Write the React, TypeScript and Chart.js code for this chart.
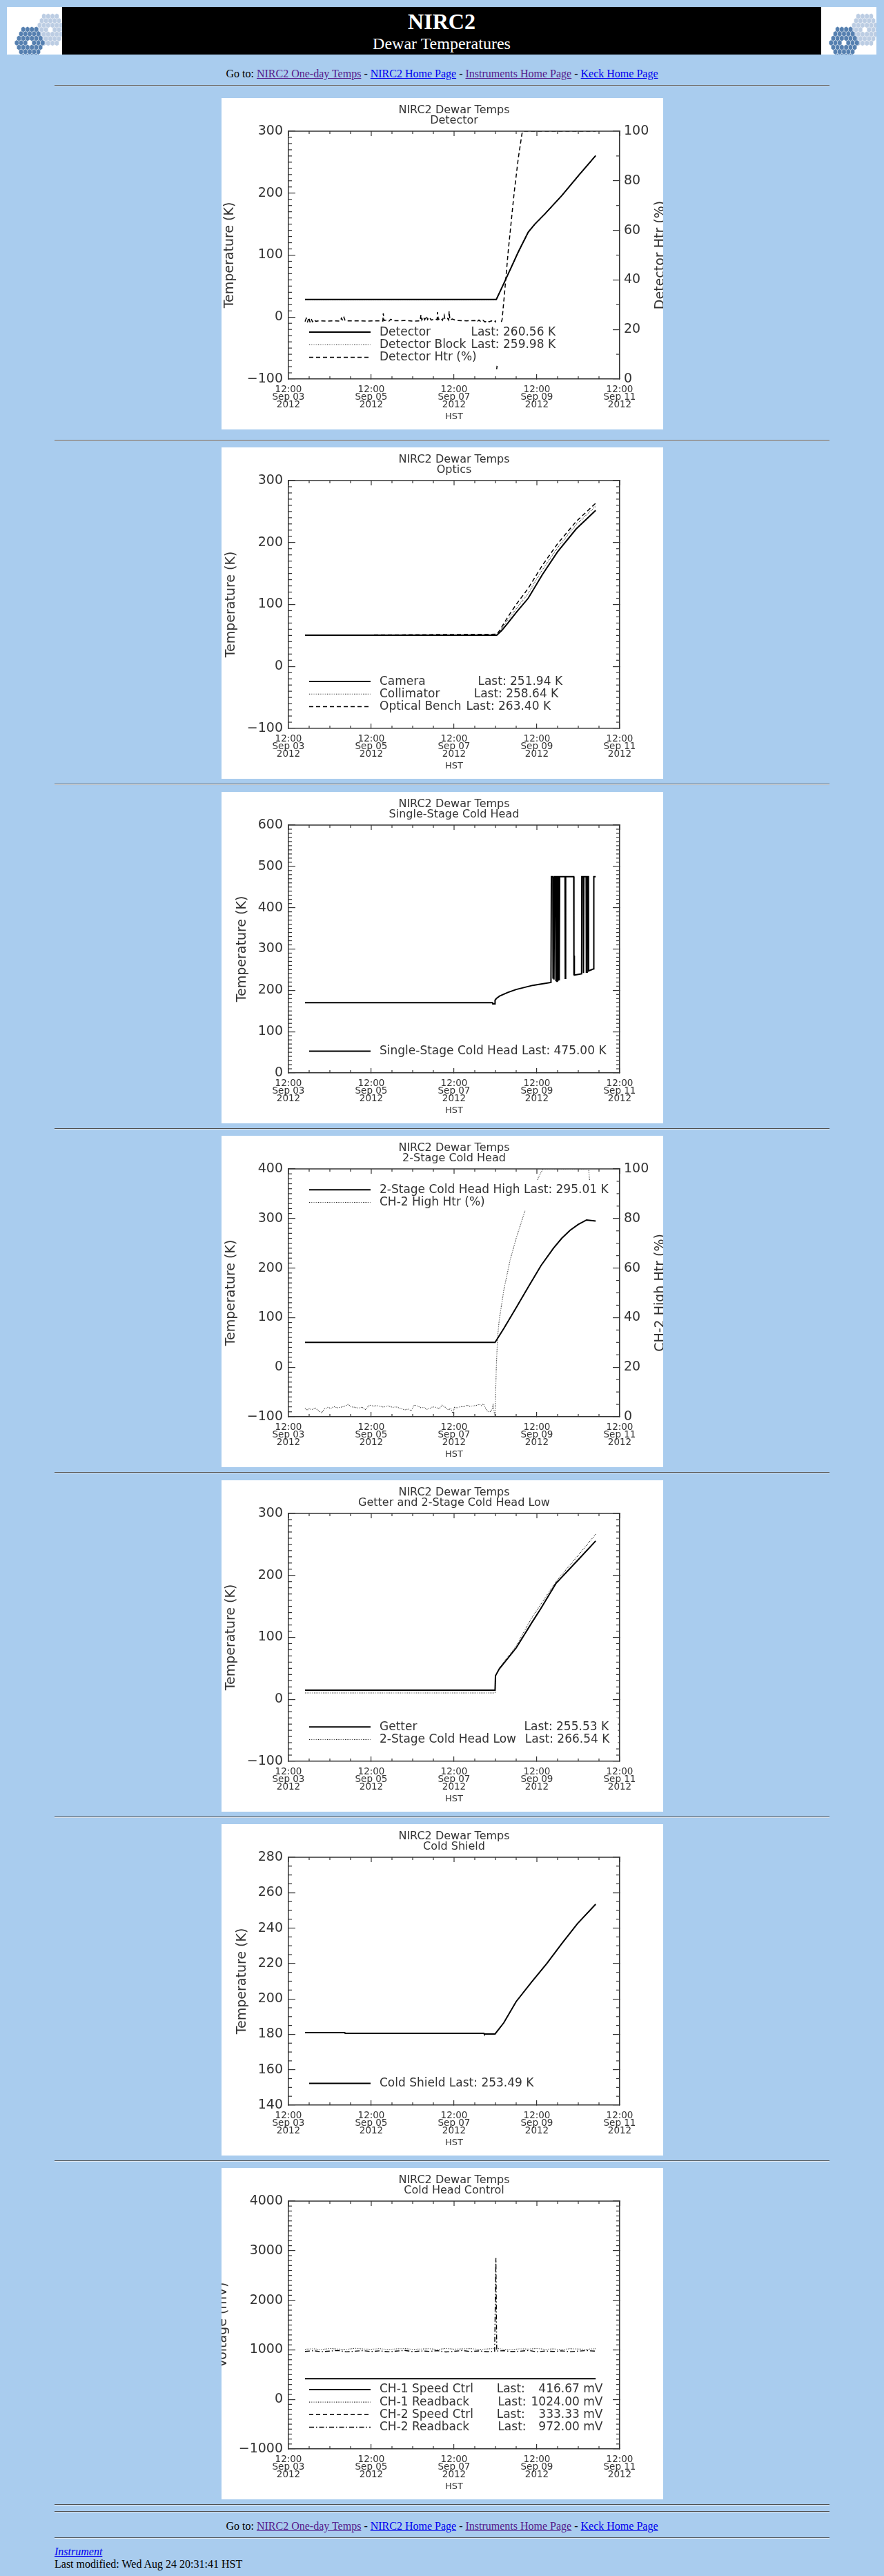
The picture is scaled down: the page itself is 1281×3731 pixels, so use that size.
import React, { useEffect, useRef } from "react";
import { Chart, registerables } from "chart.js";

Chart.register(...registerables);

const BG = "#a9ccee";
const FONT = '"DejaVu Sans", sans-serif';
const INK = "#333";

// x values are days after 12:00 HST, Sep 03 2012
const xTickLabels = [
  ["12:00", "Sep 03", "2012"],
  ["12:00", "Sep 05", "2012"],
  ["12:00", "Sep 07", "2012"],
  ["12:00", "Sep 09", "2012"],
  ["12:00", "Sep 11", "2012"],
];

type P = [number, number];

// ---- Detector ----
const detector: P[] = [[0.40, 28.4], [5.02, 28.4], [5.15, 47], [5.31, 70], [5.55, 105], [5.79, 137], [5.95, 150], [6.20, 167], [6.60, 196], [7.00, 228], [7.42, 260.6]];
const detectorBlock: P[] = [[0.40, 28.0], [5.02, 28.0], [5.15, 46.5], [5.31, 69.4], [5.55, 104.3], [5.79, 136.2], [5.95, 149.3], [6.20, 166.5], [6.60, 195.4], [7.00, 227.3], [7.42, 260.0]];
const detectorHtr: P[] = [
  [0.40, 23.2], [0.43, 24.5], [0.46, 22.9], [0.49, 24.8], [0.52, 23.0], [0.55, 24.3], [0.58, 23.1], [0.62, 24.0], [0.66, 23.3], [0.75, 23.5],
  [0.90, 23.4], [1.10, 23.5], [1.25, 23.4], [1.28, 24.6], [1.31, 23.6], [1.34, 24.9], [1.37, 23.5], [1.60, 23.5], [1.90, 23.4], [2.20, 23.5],
  [2.28, 23.4], [2.29, 26.5], [2.31, 23.6], [2.40, 23.9], [2.43, 23.4], [2.47, 24.1], [2.55, 23.5], [2.80, 23.6], [3.00, 23.4], [3.18, 23.5],
  [3.20, 25.9], [3.22, 23.8], [3.26, 25.0], [3.29, 23.9], [3.33, 25.4], [3.36, 24.0], [3.40, 24.9], [3.45, 23.8], [3.55, 24.3], [3.59, 23.9],
  [3.60, 27.0], [3.62, 24.0], [3.68, 24.6], [3.72, 23.7], [3.76, 25.8], [3.78, 24.1], [3.84, 24.5], [3.87, 23.8], [3.88, 27.3], [3.90, 23.9],
  [3.96, 24.2], [4.05, 23.6], [4.30, 23.5], [4.50, 23.6], [4.55, 23.0], [4.60, 23.8], [4.65, 23.1], [4.70, 23.7], [4.75, 23.0], [4.80, 23.6],
  [4.85, 23.1], [4.90, 23.5], [4.95, 23.0], [5.00, 23.4], [5.03, 4.0], [5.14, 23.0], [5.16, 24.0], [5.21, 33.0], [5.31, 52.0], [5.45, 75.0],
  [5.55, 89.0], [5.64, 99.0], [5.66, 100], [7.42, 100],
];

// ---- Optics ----
const camera: P[] = [[0.40, 50.4], [5.03, 50.4], [5.15, 58], [5.30, 70], [5.50, 87], [5.79, 110], [6.13, 148], [6.50, 185], [6.95, 222], [7.42, 251.9]];
const collimator: P[] = [[0.40, 50.6], [5.03, 50.6], [5.15, 61], [5.30, 75], [5.50, 93], [5.79, 118], [6.13, 156], [6.50, 192], [6.95, 229], [7.42, 258.6]];
const opticalBench: P[] = [[0.40, 50.2], [5.03, 52], [5.10, 58], [5.30, 80], [5.50, 100], [5.79, 126], [6.13, 163], [6.50, 198], [6.95, 234], [7.42, 263.4]];

// ---- Single-Stage Cold Head ----
const singleStage: P[] = [
  [0.40, 170], [4.93, 170], [4.935, 167], [4.985, 167], [4.99, 176], [5.02, 180], [5.10, 186], [5.30, 195], [5.50, 202], [5.70, 207],
  [5.90, 212], [6.10, 215], [6.34, 219], [6.35, 475], [6.385, 475], [6.39, 228], [6.40, 475], [6.41, 475], [6.415, 226], [6.425, 475],
  [6.45, 475], [6.455, 222], [6.465, 475], [6.48, 475], [6.485, 222], [6.495, 475], [6.51, 475], [6.515, 223], [6.525, 475], [6.535, 475],
  [6.54, 224], [6.55, 475], [6.68, 475], [6.685, 229], [6.695, 475], [6.89, 475], [6.895, 237], [6.90, 284], [6.905, 237], [7.08, 240],
  [7.085, 475], [7.12, 475], [7.125, 242], [7.135, 475], [7.19, 475], [7.195, 244], [7.21, 244], [7.215, 475], [7.245, 475], [7.25, 247],
  [7.37, 252], [7.375, 475], [7.42, 475],
];

// ---- 2-Stage Cold Head ----
const twoStageHigh: P[] = [[0.40, 50], [4.99, 50], [5.20, 78], [5.50, 120], [5.80, 163], [6.10, 205], [6.40, 240], [6.60, 260], [6.80, 276], [7.00, 288], [7.20, 297], [7.42, 295.0]];
const ch2HighHtr: P[] = [
  [0.40, 3.5], [0.45, 2.6], [0.50, 3.3], [0.57, 2.9], [0.65, 3.6], [0.72, 2.5], [0.80, 1.6], [0.87, 3.2], [0.95, 3.8], [1.02, 3.4],
  [1.10, 4.1], [1.18, 3.6], [1.25, 3.8], [1.35, 4.2], [1.44, 5.0], [1.52, 4.0], [1.60, 3.8], [1.70, 3.5], [1.78, 3.9], [1.85, 2.8],
  [1.96, 4.7], [2.05, 4.3], [2.14, 4.5], [2.22, 4.2], [2.30, 3.9], [2.40, 4.4], [2.52, 3.8], [2.60, 4.0], [2.70, 3.4], [2.81, 2.8],
  [2.90, 3.1], [2.96, 2.4], [3.04, 4.7], [3.12, 4.3], [3.20, 3.6], [3.26, 3.8], [3.34, 3.0], [3.41, 3.3], [3.48, 4.0], [3.56, 3.8],
  [3.64, 3.2], [3.71, 4.7], [3.78, 3.9], [3.86, 2.8], [3.92, 3.3], [3.97, 1.4], [4.01, 3.8], [4.08, 3.6], [4.16, 4.1], [4.24, 4.0],
  [4.31, 4.7], [4.38, 4.2], [4.46, 4.4], [4.54, 4.6], [4.61, 5.0], [4.66, 4.5], [4.71, 5.2], [4.79, 2.4], [4.86, 1.9], [4.92, 3.0],
  [4.94, 4.7], [4.97, 2.0], [4.99, 0.0], [5.02, 20], [5.05, 32], [5.09, 39], [5.20, 51], [5.35, 63], [5.50, 72], [5.72, 83.5],
  [5.90, 91], [6.05, 97], [6.15, 100], [7.25, 100], [7.30, 90], [7.42, 89],
];

// ---- Getter and 2-Stage Cold Head Low ----
const getter: P[] = [[0.40, 14.8], [4.99, 14.8], [5.00, 38], [5.09, 49], [5.50, 83], [5.87, 123], [6.09, 146], [6.46, 187], [6.98, 224], [7.42, 255.5]];
const twoStageLow: P[] = [[0.40, 10.3], [4.99, 10.3], [5.00, 36], [5.09, 50], [5.50, 86], [5.87, 131], [6.46, 190], [6.98, 231], [7.42, 266.5]];

// ---- Cold Shield ----
const coldShield: P[] = [[0.40, 180.9], [1.36, 180.9], [1.37, 180.6], [4.72, 180.6], [4.73, 180.2], [4.99, 180.2], [5.20, 186.5], [5.50, 198.5], [5.87, 209.5], [6.24, 220], [6.61, 231.5], [6.98, 242.5], [7.42, 253.5]];

// ---- Cold Head Control (mV) ----
const ch1Speed: P[] = [[0.40, 416.67], [7.42, 416.67]];
const ch2Speed: P[] = [[0.40, 333.33], [7.42, 333.33]];
const ch1Readback: P[] = [
  [0.4, 1012], [0.6, 1021], [0.8, 1006], [1.0, 1027], [1.2, 1015], [1.4, 1009], [1.6, 1030], [1.8, 1017], [2.0, 1011], [2.2, 1024],
  [2.4, 1004], [2.6, 1019], [2.8, 1026], [3.0, 1010], [3.2, 1016], [3.4, 1023], [3.6, 1007], [3.8, 1028], [4.0, 1013], [4.2, 1019],
  [4.4, 1025], [4.6, 1009], [4.8, 1017], [5.0, 1031], [5.2, 1012], [5.4, 1006], [5.6, 1021], [5.8, 1015], [6.0, 1028], [6.2, 1010],
  [6.4, 1019], [6.6, 1004], [6.8, 1023], [7.0, 1016], [7.2, 1011], [7.42, 1024],
];
const ch2Readback: P[] = [
  [0.4, 968], [0.6, 981], [0.8, 962], [1.0, 975], [1.2, 987], [1.4, 958], [1.6, 972], [1.8, 984], [2.0, 966], [2.2, 979],
  [2.4, 960], [2.6, 974], [2.8, 989], [3.0, 963], [3.2, 977], [3.4, 969], [3.6, 983], [3.8, 957], [4.0, 971], [4.2, 986],
  [4.4, 965], [4.6, 978], [4.8, 961], [4.98, 970], [5.01, 2850], [5.03, 976], [5.2, 982], [5.4, 964], [5.6, 973], [5.8, 988],
  [6.0, 959], [6.2, 976], [6.4, 967], [6.6, 980], [6.8, 962], [7.0, 974], [7.2, 985], [7.42, 972],
];

type Style = "solid" | "dotted" | "dashed" | "dashdot";
const STYLE: Record<Style, { borderDash: number[]; borderWidth: number; borderColor: string }> = {
  solid: { borderDash: [], borderWidth: 2, borderColor: "#000" },
  dotted: { borderDash: [1, 1.6], borderWidth: 1.1, borderColor: "#222" },
  dashed: { borderDash: [6, 4], borderWidth: 1.5, borderColor: "#000" },
  dashdot: { borderDash: [7, 3, 1.5, 3], borderWidth: 1.4, borderColor: "#000" },
};

interface AxisSpec { min: number; max: number; step: number; minor: number; title?: string }
interface SeriesSpec { label: string; data: P[]; style: Style; axis?: "y" | "y2" }
interface LegendPart { text: string; x: number; align?: CanvasTextAlign }
interface ChartSpec {
  subtitle: string;
  yTitle: string;
  yTitleX: number;
  y: AxisSpec;
  y2?: AxisSpec;
  series: SeriesSpec[];
  legendAnchor: "top" | "bottom";
  legendRows: { style: Style; parts: LegendPart[] }[];
}

const specs: ChartSpec[] = [
  {
    subtitle: "Detector", yTitle: "Temperature (K)", yTitleX: 12.5,
    y: { min: -100, max: 300, step: 100, minor: 10 },
    y2: { min: 0, max: 100, step: 20, minor: 10, title: "Detector Htr (%)" },
    series: [
      { label: "Detector", data: detector, style: "solid" },
      { label: "Detector Block", data: detectorBlock, style: "dotted" },
      { label: "Detector Htr (%)", data: detectorHtr, style: "dashed", axis: "y2" },
    ],
    legendAnchor: "bottom",
    legendRows: [
      { style: "solid", parts: [{ text: "Detector", x: 229 }, { text: "Last: 260.56 K", x: 356 }] },
      { style: "dotted", parts: [{ text: "Detector Block", x: 229 }, { text: "Last: 259.98 K", x: 356 }] },
      { style: "dashed", parts: [{ text: "Detector Htr (%)", x: 229 }] },
    ],
  },
  {
    subtitle: "Optics", yTitle: "Temperature (K)", yTitleX: 14,
    y: { min: -100, max: 300, step: 100, minor: 10 },
    series: [
      { label: "Camera", data: camera, style: "solid" },
      { label: "Collimator", data: collimator, style: "dotted" },
      { label: "Optical Bench", data: opticalBench, style: "dashed" },
    ],
    legendAnchor: "bottom",
    legendRows: [
      { style: "solid", parts: [{ text: "Camera", x: 229 }, { text: "Last: 251.94 K", x: 358.6 }] },
      { style: "dotted", parts: [{ text: "Collimator", x: 229 }, { text: "Last: 258.64 K", x: 352.8 }] },
      { style: "dashed", parts: [{ text: "Optical Bench", x: 229 }, { text: "Last: 263.40 K", x: 341.6 }] },
    ],
  },
  {
    subtitle: "Single-Stage Cold Head", yTitle: "Temperature (K)", yTitleX: 30,
    y: { min: 0, max: 600, step: 100, minor: 10 },
    series: [{ label: "Single-Stage Cold Head", data: singleStage, style: "solid" }],
    legendAnchor: "bottom",
    legendRows: [{ style: "solid", parts: [{ text: "Single-Stage Cold Head Last: 475.00 K", x: 229 }] }],
  },
  {
    subtitle: "2-Stage Cold Head", yTitle: "Temperature (K)", yTitleX: 14,
    y: { min: -100, max: 400, step: 100, minor: 10 },
    y2: { min: 0, max: 100, step: 20, minor: 5, title: "CH-2 High Htr (%)" },
    series: [
      { label: "2-Stage Cold Head High", data: twoStageHigh, style: "solid" },
      { label: "CH-2 High Htr (%)", data: ch2HighHtr, style: "dotted", axis: "y2" },
    ],
    legendAnchor: "top",
    legendRows: [
      { style: "solid", parts: [{ text: "2-Stage Cold Head High Last: 295.01 K", x: 229 }] },
      { style: "dotted", parts: [{ text: "CH-2 High Htr (%)", x: 229 }] },
    ],
  },
  {
    subtitle: "Getter and 2-Stage Cold Head Low", yTitle: "Temperature (K)", yTitleX: 14,
    y: { min: -100, max: 300, step: 100, minor: 10 },
    series: [
      { label: "Getter", data: getter, style: "solid" },
      { label: "2-Stage Cold Head Low", data: twoStageLow, style: "dotted" },
    ],
    legendAnchor: "bottom",
    legendRows: [
      { style: "solid", parts: [{ text: "Getter", x: 229 }, { text: "Last: 255.53 K", x: 438.5 }] },
      { style: "dotted", parts: [{ text: "2-Stage Cold Head Low", x: 229 }, { text: "Last: 266.54 K", x: 439.8 }] },
    ],
  },
  {
    subtitle: "Cold Shield", yTitle: "Temperature (K)", yTitleX: 30,
    y: { min: 140, max: 280, step: 20, minor: 5 },
    series: [{ label: "Cold Shield", data: coldShield, style: "solid" }],
    legendAnchor: "bottom",
    legendRows: [{ style: "solid", parts: [{ text: "Cold Shield Last: 253.49 K", x: 229 }] }],
  },
  {
    subtitle: "Cold Head Control", yTitle: "Voltage (mV)", yTitleX: 2,
    y: { min: -1000, max: 4000, step: 1000, minor: 100 },
    series: [
      { label: "CH-1 Speed Ctrl", data: ch1Speed, style: "solid" },
      { label: "CH-1 Readback", data: ch1Readback, style: "dotted" },
      { label: "CH-2 Speed Ctrl", data: ch2Speed, style: "dashed" },
      { label: "CH-2 Readback", data: ch2Readback, style: "dashdot" },
    ],
    legendAnchor: "bottom",
    legendRows: [
      { style: "solid", parts: [{ text: "CH-1 Speed Ctrl", x: 229 }, { text: "Last:", x: 398.7 }, { text: "416.67 mV", x: 548, align: "right" }] },
      { style: "dotted", parts: [{ text: "CH-1 Readback", x: 229 }, { text: "Last:", x: 400.4 }, { text: "1024.00 mV", x: 548, align: "right" }] },
      { style: "dashed", parts: [{ text: "CH-2 Speed Ctrl", x: 229 }, { text: "Last:", x: 398.7 }, { text: "333.33 mV", x: 548, align: "right" }] },
      { style: "dashdot", parts: [{ text: "CH-2 Readback", x: 229 }, { text: "Last:", x: 400.4 }, { text: "972.00 mV", x: 548, align: "right" }] },
    ],
  },
];

const fmtY = (v: any) => {
  const n = Number(v);
  return n < 0 ? "\u2212" + Math.abs(n) : String(n);
};
const isMajor = (v: number, step: number) => Math.abs(v / step - Math.round(v / step)) < 1e-6;

function IdlChart({ spec }: { spec: ChartSpec }) {
  const ref = useRef<HTMLCanvasElement>(null);
  useEffect(() => {
    const canvas = ref.current;
    if (!canvas) return;
    const y2 = spec.y2 ?? spec.y;

    const frame = {
      id: "idlFrame",
      afterDraw(chart: any) {
        const { ctx, chartArea: a, scales } = chart;
        const xs = scales.x, ys = scales.y, y2s = scales.y2;
        const seg = (x1: number, y1: number, x2: number, y2_: number) => {
          ctx.beginPath(); ctx.moveTo(x1, y1); ctx.lineTo(x2, y2_); ctx.stroke();
        };
        ctx.save();
        ctx.strokeStyle = INK;
        ctx.lineWidth = 1.5;
        seg(a.left - 0.75, a.top, a.right + 0.75, a.top);
        ctx.lineWidth = 1.2;
        for (let v = 0; v <= 8 + 1e-9; v += 0.5) {
          const px = xs.getPixelForValue(v);
          const major = isMajor(v, 2);
          const len = major ? 7 : 4;
          seg(px, a.top, px, a.top + len);
          if (!major) seg(px, a.bottom, px, a.bottom - len);
        }
        for (let v = spec.y.min; v <= spec.y.max + 1e-9; v += spec.y.minor) {
          if (isMajor(v - spec.y.min, spec.y.step)) continue;
          const py = ys.getPixelForValue(v);
          seg(a.left, py, a.left + 5, py);
        }
        for (let v = y2.min; v <= y2.max + 1e-9; v += y2.minor) {
          if (isMajor(v - y2.min, y2.step)) continue;
          const py = y2s.getPixelForValue(v);
          seg(a.right, py, a.right - 5, py);
        }
        ctx.restore();
      },
    };

    const legend = {
      id: "idlLegend",
      afterDraw(chart: any) {
        const { ctx, chartArea: a } = chart;
        const rows = spec.legendRows;
        const gap = 18.2;
        const n = rows.length;
        const firstY = spec.legendAnchor === "top" ? 78.3 : 375.5 - (n - 1) * gap;
        ctx.save();
        ctx.font = `17px ${FONT}`;
        // column placement: keep the reference columns, but never let text collide
        const placed = rows.map((r) => r.parts.map((p) => ({ ...p, w: ctx.measureText(p.text).width })));
        const cols = Math.max(...placed.map((r) => r.length));
        for (let c = 1; c < cols; c++) {
          let delta = 0;
          placed.forEach((r) => {
            if (!r[c]) return;
            const prev = r[c - 1];
            const prevRight = prev.align === "right" ? prev.x : prev.x + prev.w;
            const left = r[c].align === "right" ? r[c].x - r[c].w : r[c].x;
            delta = Math.max(delta, prevRight + 7 - left);
          });
          if (delta > 0) placed.forEach((r) => { for (let k = c; k < r.length; k++) r[k].x += delta; });
        }
        let maxRight = 216;
        placed.forEach((r) => r.forEach((p) => {
          const right = p.align === "right" ? p.x : p.x + p.w;
          maxRight = Math.max(maxRight, right);
        }));
        ctx.fillStyle = "#fff";
        ctx.fillRect(120, firstY - 14, maxRight + 12 - 120, (n - 1) * gap + 26);
        placed.forEach((r, i) => {
          const yy = firstY + i * gap;
          const st = STYLE[rows[i].style];
          ctx.beginPath();
          ctx.setLineDash(st.borderDash);
          ctx.lineWidth = st.borderWidth;
          ctx.strokeStyle = st.borderColor;
          ctx.moveTo(127, yy);
          ctx.lineTo(216, yy);
          ctx.stroke();
          ctx.setLineDash([]);
          ctx.fillStyle = INK;
          ctx.textBaseline = "middle";
          r.forEach((p) => {
            ctx.textAlign = p.align ?? "left";
            ctx.fillText(p.text, p.x, yy);
          });
        });
        if (spec.y2 && spec.y2.title) {
          ctx.translate(636, (a.top + a.bottom) / 2);
          ctx.rotate(-Math.PI / 2);
          ctx.font = `19px ${FONT}`;
          ctx.textAlign = "center";
          ctx.textBaseline = "middle";
          ctx.fillStyle = INK;
          ctx.fillText(spec.y2.title, 0, 0);
        }
        ctx.restore();
      },
    };

    const gridOpts = (len: number) => ({
      drawOnChartArea: false, drawTicks: true, tickLength: len, color: INK, lineWidth: 1.2,
    });
    const border = { display: true, color: INK, width: 1.5 };

    const chart = new Chart(canvas, {
      type: "line",
      data: {
        datasets: spec.series.map((s) => ({
          label: s.label,
          data: s.data.map(([x, y]) => ({ x, y })),
          yAxisID: s.axis ?? "y",
          ...STYLE[s.style],
          pointRadius: 0,
          tension: 0,
          fill: false,
        })),
      },
      options: {
        animation: false,
        responsive: false,
        events: [],
        layout: { padding: 0 },
        plugins: {
          legend: { display: false },
          tooltip: { enabled: false },
          title: {
            display: true,
            text: ["NIRC2 Dewar Temps", spec.subtitle],
            fullSize: false,
            color: INK,
            font: { family: FONT, size: 16, weight: "normal", lineHeight: "14.5px" },
            padding: { top: 11, bottom: 8 },
          },
        },
        scales: {
          x: {
            type: "linear", position: "bottom", min: 0, max: 8,
            afterFit: (s: any) => { s.height = 73; },
            ticks: {
              stepSize: 2, autoSkip: false, maxRotation: 0, minRotation: 0, padding: 17, color: INK,
              font: { family: FONT, size: 13.5, lineHeight: "11px" },
              callback: (v: any) => xTickLabels[Math.round(Number(v) / 2)] ?? "",
            },
            grid: gridOpts(-7),
            border,
            title: { display: true, text: "HST", color: INK, font: { family: FONT, size: 13, lineHeight: "13px" }, padding: { top: 0, bottom: 11.5 } },
          },
          y: {
            type: "linear", position: "left", min: spec.y.min, max: spec.y.max,
            afterFit: (s: any) => { s.width = 97; },
            ticks: { stepSize: spec.y.step, autoSkip: false, padding: 18, color: INK, font: { family: FONT, size: 19 }, callback: fmtY },
            grid: gridOpts(-10),
            border,
            title: { display: true, text: spec.yTitle, color: INK, font: { family: FONT, size: 19, lineHeight: "19px" }, padding: { top: spec.yTitleX - 9.5, bottom: 0 } },
          },
          y2: {
            type: "linear", position: "right", min: y2.min, max: y2.max,
            afterFit: (s: any) => { s.width = 63; },
            ticks: { display: !!spec.y2, stepSize: y2.step, autoSkip: false, padding: 16, color: INK, font: { family: FONT, size: 19 }, callback: fmtY },
            grid: gridOpts(-10),
            border,
          },
        },
      } as any,
      plugins: [frame, legend],
    });
    return () => chart.destroy();
  }, [spec]);
  return <canvas ref={ref} width={640} height={480} style={{ display: "block", width: 640, height: 480, background: "#fff" }} />;
}

function KeckLogo() {
  const cells: [number, number][] = [];
  for (let q = -3; q <= 3; q++) {
    for (let r = -3; r <= 3; r++) {
      const d = Math.max(Math.abs(q), Math.abs(r), Math.abs(q + r));
      if (d >= 1 && d <= 3) cells.push([q, r]);
    }
  }
  const s = 3.6;
  const mirrors = [
    { cx: 63, cy: 33, fill: "#bccde3" },
    { cx: 33, cy: 52, fill: "#5680b0" },
  ];
  const polys: React.ReactElement[] = [];
  mirrors.forEach((m, mi) => {
    cells.forEach(([q, r], i) => {
      const hx = m.cx + s * Math.sqrt(3) * (q + r / 2);
      const hy = m.cy + s * 1.5 * r * 1.2;
      const pts: string[] = [];
      for (let k = 0; k < 6; k++) {
        const ang = (Math.PI / 180) * (60 * k + 30);
        pts.push(`${(hx + s * 0.92 * Math.cos(ang)).toFixed(2)},${(hy + s * 0.92 * 1.2 * Math.sin(ang)).toFixed(2)}`);
      }
      polys.push(<polygon key={`${mi}-${i}`} points={pts.join(" ")} fill={m.fill} />);
    });
  });
  return (
    <svg width={80} height={69} style={{ display: "block", background: "#fff" }}>
      {polys}
    </svg>
  );
}

const linkStyle = (visited: boolean): React.CSSProperties => ({ color: visited ? "#551a8b" : "#0000ee", textDecoration: "underline" });

function GoTo({ top }: { top: number }) {
  return (
    <div style={{ textAlign: "center", lineHeight: "18px", marginTop: top }}>
      Go to: <a href="#" style={linkStyle(true)}>NIRC2 One-day Temps</a> - <a href="#" style={linkStyle(false)}>NIRC2 Home Page</a> -{" "}
      <a href="#" style={linkStyle(true)}>Instruments Home Page</a> - <a href="#" style={linkStyle(false)}>Keck Home Page</a>
    </div>
  );
}

function Rule({ top }: { top: number }) {
  return <div style={{ width: 1123, height: 0, margin: `${top}px auto 0`, borderTop: "1px solid #505050", borderBottom: "1px solid #dde6f0" }} />;
}

export default function App() {
  useEffect(() => {
    document.body.style.background = BG;
    document.body.style.margin = "8px";
    document.documentElement.style.overflow = "hidden";
  }, []);
  return (
    <div style={{ fontFamily: '"Liberation Serif", "Times New Roman", serif', fontSize: 16, color: "#000", paddingTop: 2 }}>
      <div style={{ display: "flex", width: 1260, height: 69, marginLeft: 2 }}>
        <KeckLogo />
        <div style={{ flex: 1, background: "#000", color: "#fff", textAlign: "center", paddingTop: 3 }}>
          <div style={{ fontSize: 32, fontWeight: "bold", lineHeight: "36px" }}>NIRC2</div>
          <div style={{ fontSize: 24, lineHeight: "28px" }}>Dewar Temperatures</div>
        </div>
        <KeckLogo />
      </div>
      <GoTo top={19} />
      <Rule top={7} />
      {specs.map((s, i) => (
        <React.Fragment key={i}>
          <div style={{ width: 640, margin: `${i === 0 ? 17 : 9.4}px auto 0` }}>
            <IdlChart spec={s} />
          </div>
          <Rule top={i === 0 ? 15 : 7} />
        </React.Fragment>
      ))}
      <Rule top={8} />
      <GoTo top={11} />
      <Rule top={7} />
      <div style={{ width: 1123, margin: "10px auto 0", lineHeight: "18px" }}>
        <div style={{ fontStyle: "italic" }}>
          <a href="#" style={linkStyle(false)}>Instrument</a>
        </div>
        <div>Last modified: Wed Aug 24 20:31:41 HST</div>
      </div>
    </div>
  );
}
